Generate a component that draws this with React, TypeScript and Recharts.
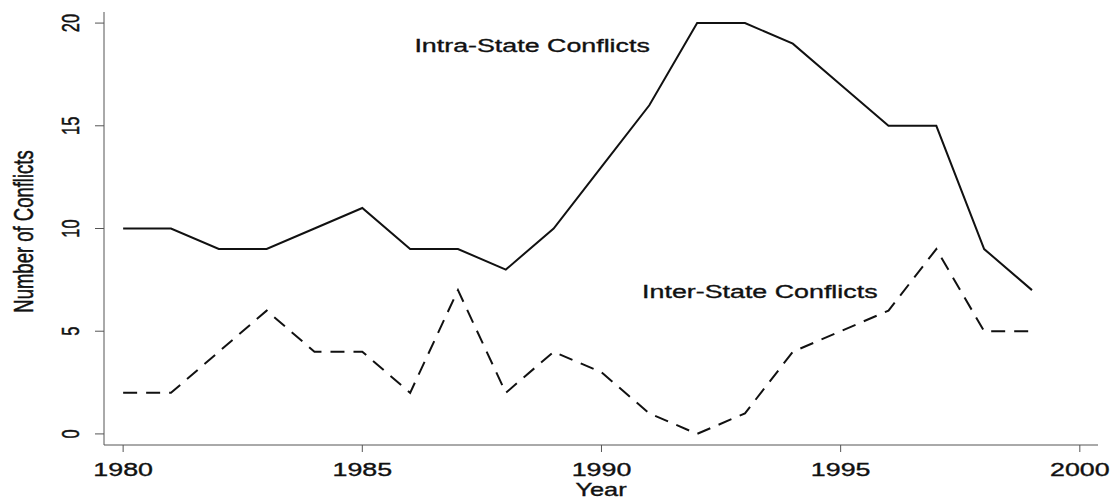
import React from "react";
import { LineChart, Line, XAxis, YAxis, ReferenceDot, Label } from "recharts";

const years = [1980, 1981, 1982, 1983, 1984, 1985, 1986, 1987, 1988, 1989, 1990, 1991, 1992, 1993, 1994, 1995, 1996, 1997, 1998, 1999];
const intraState = [10, 10, 9, 9, 10, 11, 9, 9, 8, 10, 13, 16, 20, 20, 19, 17, 15, 15, 9, 7];
const interState = [2, 2, 4, 6, 4, 4, 2, 7, 2, 4, 3, 1, 0, 1, 4, 5, 6, 9, 5, 5];
const xTicks = [1980, 1985, 1990, 1995, 2000];
const yTicks = [0, 5, 10, 15, 20];

const data = years.map((year, i) => ({
  year,
  intra: intraState[i],
  inter: interState[i],
}));

const FONT = "'Liberation Sans', Arial, Helvetica, sans-serif";
// the source image is stretched sideways, so text is widened to match
const SX = 1.45;

// text drawn at (x, y) baseline, stretched horizontally; rotated when vertical
const WideText = ({ x, y, size, vertical, children }: any) => (
  <text
    transform={`translate(${x}, ${y}) scale(${SX}, 1)${vertical ? " rotate(-90)" : ""}`}
    x={0}
    y={0}
    textAnchor="middle"
    fontSize={size}
    fontFamily={FONT}
    fill="#111"
    stroke="#111"
    strokeWidth={0.35}
  >
    {children}
  </text>
);

const XTick = (props: any) => (
  <WideText x={props.x} y={props.y + 22} size={18.5}>
    {props.payload.value}
  </WideText>
);

const YTick = (props: any) => (
  <WideText x={props.x - 14} y={props.y} size={16.5} vertical>
    {props.payload.value}
  </WideText>
);

const noteLabel = (text: string) => (props: any) => {
  const vb = props.viewBox || {};
  return (
    <WideText x={vb.x + (vb.width || 0) / 2} y={vb.y + (vb.height || 0) / 2} size={18.5}>
      {text}
    </WideText>
  );
};

export default function App() {
  return (
    <div style={{ position: "absolute", left: 0, top: 0, background: "#fff" }}>
      <LineChart
        width={1114}
        height={501}
        data={data}
        margin={{ top: 12, right: 16, left: 0, bottom: 0 }}
      >
        <XAxis
          dataKey="year"
          type="number"
          domain={[1979.6, 2000.38]}
          ticks={xTicks}
          height={56}
          stroke="#555"
          tickSize={7}
          tick={<XTick />}
        >
          <Label
            content={(props: any) => (
              <WideText x={props.viewBox.x + props.viewBox.width / 2} y={props.viewBox.y + 51} size={17.5}>
                Year
              </WideText>
            )}
          />
        </XAxis>
        <YAxis
          type="number"
          domain={[-0.54, 20.54]}
          ticks={yTicks}
          width={104}
          stroke="#555"
          tickSize={9}
          tick={<YTick />}
        >
          <Label
            content={(props: any) => (
              <WideText x={props.viewBox.x + 33} y={props.viewBox.y + props.viewBox.height / 2 + 3} size={18.5} vertical>
                Number of Conflicts
              </WideText>
            )}
          />
        </YAxis>
        <Line
          dataKey="intra"
          stroke="#111"
          strokeWidth={2}
          dot={false}
          isAnimationActive={false}
        />
        <Line
          dataKey="inter"
          stroke="#111"
          strokeWidth={2}
          strokeDasharray="14 9"
          dot={false}
          isAnimationActive={false}
        />
        <ReferenceDot x={1988.55} y={18.59} r={0} ifOverflow="visible">
          <Label content={noteLabel("Intra-State Conflicts")} />
        </ReferenceDot>
        <ReferenceDot x={1993.31} y={6.62} r={0} ifOverflow="visible">
          <Label content={noteLabel("Inter-State Conflicts")} />
        </ReferenceDot>
      </LineChart>
    </div>
  );
}
